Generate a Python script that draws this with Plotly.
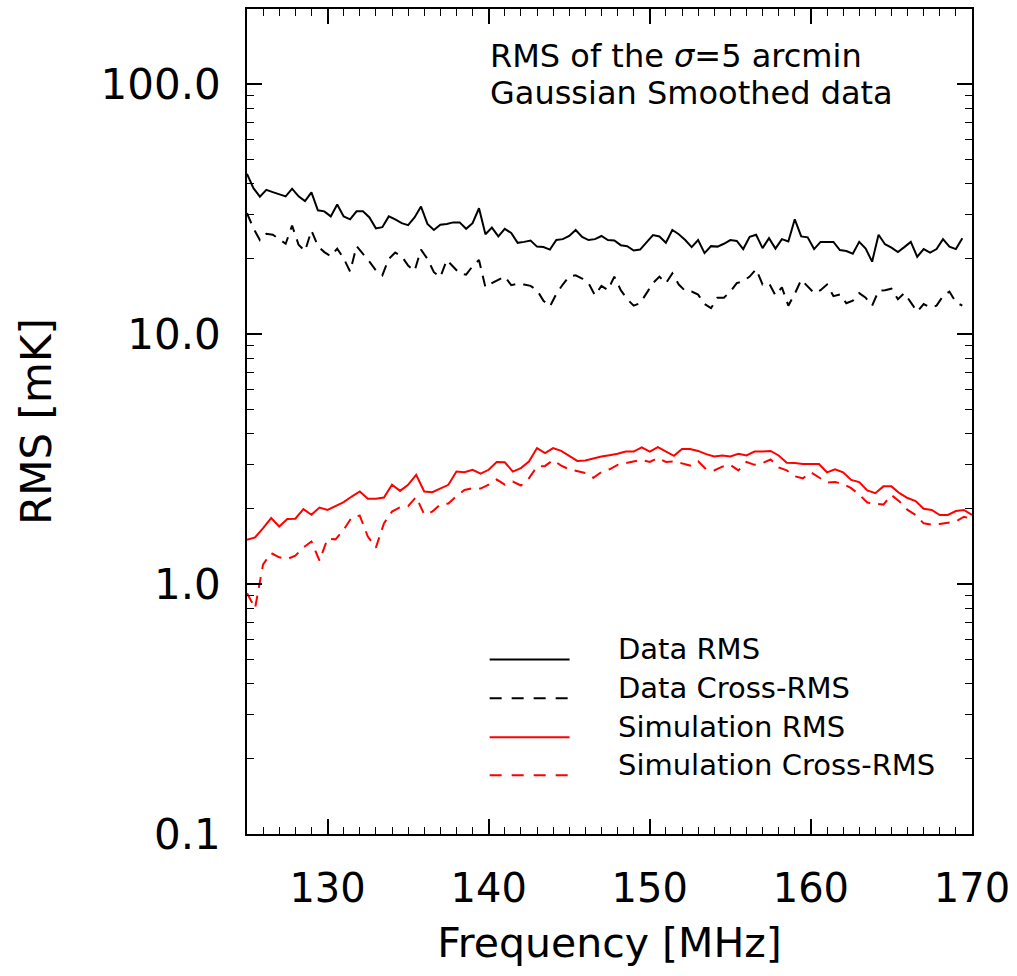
import numpy as np
import plotly.graph_objects as go

# ---------------- data ----------------
freq_data = np.round(125.0 + 0.4 * np.arange(112), 1)   # MHz
freq_sim = np.round(125.0 + 0.5 * np.arange(91), 1)     # MHz

data_rms = [43.8, 38.4, 35.5, 37.8, 37.0, 36.3, 35.6, 38.2, 35.6, 34.1,
            36.9, 31.3, 31.0, 29.6, 33.0, 29.6, 28.8, 31.0, 31.0, 29.3,
            26.5, 26.8, 29.6, 28.8, 27.8, 27.3, 29.3, 32.4, 27.6, 26.1,
            27.4, 27.6, 28.0, 28.0, 26.4, 27.8, 31.9, 25.1, 26.7, 24.6,
            26.4, 25.4, 23.2, 23.4, 23.7, 22.4, 22.3, 21.8, 23.8, 24.0,
            24.7, 26.1, 24.5, 23.8, 24.0, 24.7, 23.8, 23.7, 22.7, 22.5,
            21.6, 21.8, 23.4, 24.9, 24.6, 23.2, 26.1, 25.1, 23.8, 22.3,
            23.8, 21.1, 22.5, 22.4, 23.0, 23.8, 23.6, 21.9, 24.5, 25.0,
            22.1, 24.2, 22.0, 24.0, 23.5, 28.8, 24.6, 24.4, 21.9, 23.4,
            23.4, 23.4, 21.7, 21.5, 21.0, 23.4, 22.0, 19.5, 25.0, 22.9,
            22.2, 21.3, 22.3, 23.4, 20.4, 21.9, 21.2, 21.9, 24.0, 22.4,
            21.9, 24.2]

data_cross = [30.5, 26.5, 23.8, 25.2, 25.0, 24.0, 23.0, 27.2, 22.8, 21.5,
              26.0, 22.5, 21.3, 20.5, 22.0, 20.1, 17.8, 22.5, 21.0, 19.5,
              18.0, 17.2, 20.0, 21.2, 20.5, 18.8, 17.9, 21.8, 20.0, 17.7,
              16.9, 19.8, 18.6, 17.5, 17.3, 18.7, 19.8, 15.4, 16.0, 16.5,
              17.0, 15.7, 15.9, 15.8, 15.6, 15.0, 13.6, 12.9, 14.5, 15.8,
              17.0, 17.2, 16.7, 16.0, 14.3, 15.6, 15.0, 17.0, 15.0, 13.8,
              13.0, 13.3, 14.6, 16.0, 17.0, 16.0, 17.5, 15.8, 14.9, 14.8,
              14.4, 13.2, 12.7, 14.0, 14.0, 14.8, 16.0, 16.3, 17.0, 18.2,
              15.8, 16.0, 14.3, 15.4, 13.0, 14.5, 16.5, 15.5, 14.6, 15.0,
              15.8, 14.2, 14.4, 13.3, 13.6, 14.6, 14.0, 13.0, 14.9, 15.0,
              15.2, 13.8, 14.6, 13.4, 12.3, 13.2, 12.8, 13.0, 14.2, 14.8,
              13.4, 13.0]

sim_rms = [1.503, 1.536, 1.675, 1.837, 1.70, 1.82, 1.826, 1.995, 1.893, 2.025,
           1.98, 2.057, 2.128, 2.24, 2.346, 2.194, 2.194, 2.22, 2.496, 2.36,
           2.496, 2.736, 2.346, 2.33, 2.406, 2.496, 2.82, 2.80, 2.866, 2.765,
           2.866, 3.076, 3.07, 2.82, 2.91, 3.09, 3.50, 3.34, 3.50, 3.41,
           3.26, 3.11, 3.12, 3.19, 3.24, 3.28, 3.32, 3.39, 3.39, 3.52,
           3.39, 3.53, 3.39, 3.26, 3.47, 3.47, 3.41, 3.31, 3.24, 3.27,
           3.24, 3.32, 3.27, 3.39, 3.39, 3.41, 3.27, 3.06, 3.05, 3.02,
           3.02, 3.02, 2.80, 2.88, 2.80, 2.61, 2.56, 2.37, 2.31, 2.46,
           2.46, 2.31, 2.21, 2.15, 2.00, 1.98, 1.89, 1.89, 1.96, 1.98, 1.89]

sim_cross = [0.92, 0.80, 1.20, 1.33, 1.28, 1.26, 1.30, 1.40, 1.48, 1.24,
             1.52, 1.51, 1.65, 1.85, 1.88, 1.55, 1.40, 1.75, 1.95, 2.03,
             2.05, 2.23, 1.90, 1.95, 2.08, 2.10, 2.25, 2.38, 2.42, 2.41,
             2.50, 2.62, 2.50, 2.57, 2.48, 2.65, 2.95, 2.97, 3.13, 2.98,
             2.88, 2.82, 2.78, 2.66, 2.81, 2.88, 3.00, 3.05, 3.10, 3.14,
             3.08, 3.20, 3.08, 3.10, 3.04, 2.98, 3.10, 2.88, 2.85, 2.95,
             3.00, 2.85, 3.08, 3.00, 3.05, 3.15, 2.93, 2.85, 2.70, 2.65,
             2.80, 2.68, 2.55, 2.56, 2.52, 2.42, 2.28, 2.12, 2.10, 2.08,
             2.27, 2.14, 1.98, 1.89, 1.75, 1.73, 1.74, 1.76, 1.78, 1.86, 1.82]

x_ticks = [130, 140, 150, 160, 170]
y_ticks = [0.1, 1, 10, 100]
y_ticktext = ["0.1", "1.0", "10.0", "100.0"]
y_minor = [v * m for m in (0.1, 1, 10) for v in range(2, 10)] + [200]

legend_labels = ["Data RMS", "Data Cross-RMS", "Simulation RMS", "Simulation Cross-RMS"]
legend_colors = ["black", "black", "red", "red"]

FONT = "DejaVu Sans"
DASH = "11px,8px"
legend_dash = ["solid", "12px,10px", "solid", "12px,10px"]

fig = go.Figure()
fig.add_trace(go.Scatter(x=freq_data, y=data_rms, mode="lines", name=legend_labels[0],
                         line=dict(color="black", width=2)))
fig.add_trace(go.Scatter(x=freq_data, y=data_cross, mode="lines", name=legend_labels[1],
                         line=dict(color="black", width=2, dash=DASH)))
fig.add_trace(go.Scatter(x=freq_sim, y=sim_rms, mode="lines", name=legend_labels[2],
                         line=dict(color="red", width=2)))
fig.add_trace(go.Scatter(x=freq_sim, y=sim_cross, mode="lines", name=legend_labels[3],
                         line=dict(color="red", width=2, dash=DASH)))

# plot-area geometry (pixels) used to place the hand-made legend
L, R, T, B = 247, 973, 7, 834
W, H = R - L, B - T


def px(xp):
    return (xp - L) / W


def py(yp):
    return (B - yp) / H


shapes = []
annotations = []
rows = [659, 698, 737, 775]
for lab, col, dsh, yr in zip(legend_labels, legend_colors, legend_dash, rows):
    shapes.append(dict(type="line", xref="paper", yref="paper",
                       x0=px(490), x1=px(570), y0=py(yr), y1=py(yr),
                       line=dict(color=col, width=2, dash=dsh)))
    annotations.append(dict(xref="paper", yref="paper", x=px(617), y=py(yr - 10),
                            xanchor="left", yanchor="middle", showarrow=False,
                            text=lab, font=dict(family=FONT, size=29, color="black")))

annotations.append(dict(xref="paper", yref="paper", x=px(488), y=py(54),
                        xanchor="left", yanchor="middle", showarrow=False,
                        text="RMS of the <i>σ</i>=5 arcmin",
                        font=dict(family=FONT, size=32, color="black")))
annotations.append(dict(xref="paper", yref="paper", x=px(488), y=py(91),
                        xanchor="left", yanchor="middle", showarrow=False,
                        text="Gaussian Smoothed data",
                        font=dict(family=FONT, size=32, color="black")))

fig.update_layout(
    width=1017, height=976,
    margin=dict(l=L, r=1017 - R, t=T, b=976 - B),
    paper_bgcolor="white", plot_bgcolor="white",
    showlegend=False,
    font=dict(family=FONT, color="black"),
    shapes=shapes, annotations=annotations,
)

fig.update_xaxes(
    range=[125, 170], showgrid=False, zeroline=False,
    showline=True, linecolor="black", linewidth=1.5, mirror="allticks",
    ticks="inside", ticklen=15, tickwidth=1.5, tickcolor="black",
    tickvals=x_ticks, tickfont=dict(family=FONT, size=40, color="black"),
    ticklabelstandoff=18,
    minor=dict(ticks="inside", ticklen=7, tickwidth=1.2, tickcolor="black", dtick=1, tick0=125, showgrid=False),
    title=dict(text="Frequency [MHz]", font=dict(family=FONT, size=41, color="black"), standoff=19),
)
fig.update_yaxes(
    type="log", range=[-1, np.log10(200)], showgrid=False, zeroline=False,
    showline=True, linecolor="black", linewidth=1.5, mirror="allticks",
    ticks="inside", ticklen=15, tickwidth=1.5, tickcolor="black",
    tickvals=y_ticks, ticktext=y_ticktext, tickfont=dict(family=FONT, size=42, color="black"),
    ticklabelstandoff=16,
    minor=dict(ticks="inside", ticklen=7, tickwidth=1.2, tickcolor="black", tickvals=y_minor, showgrid=False),
    title=dict(text="RMS [mK]", font=dict(family=FONT, size=42, color="black"), standoff=36),
)

fig.write_html("out.html")
